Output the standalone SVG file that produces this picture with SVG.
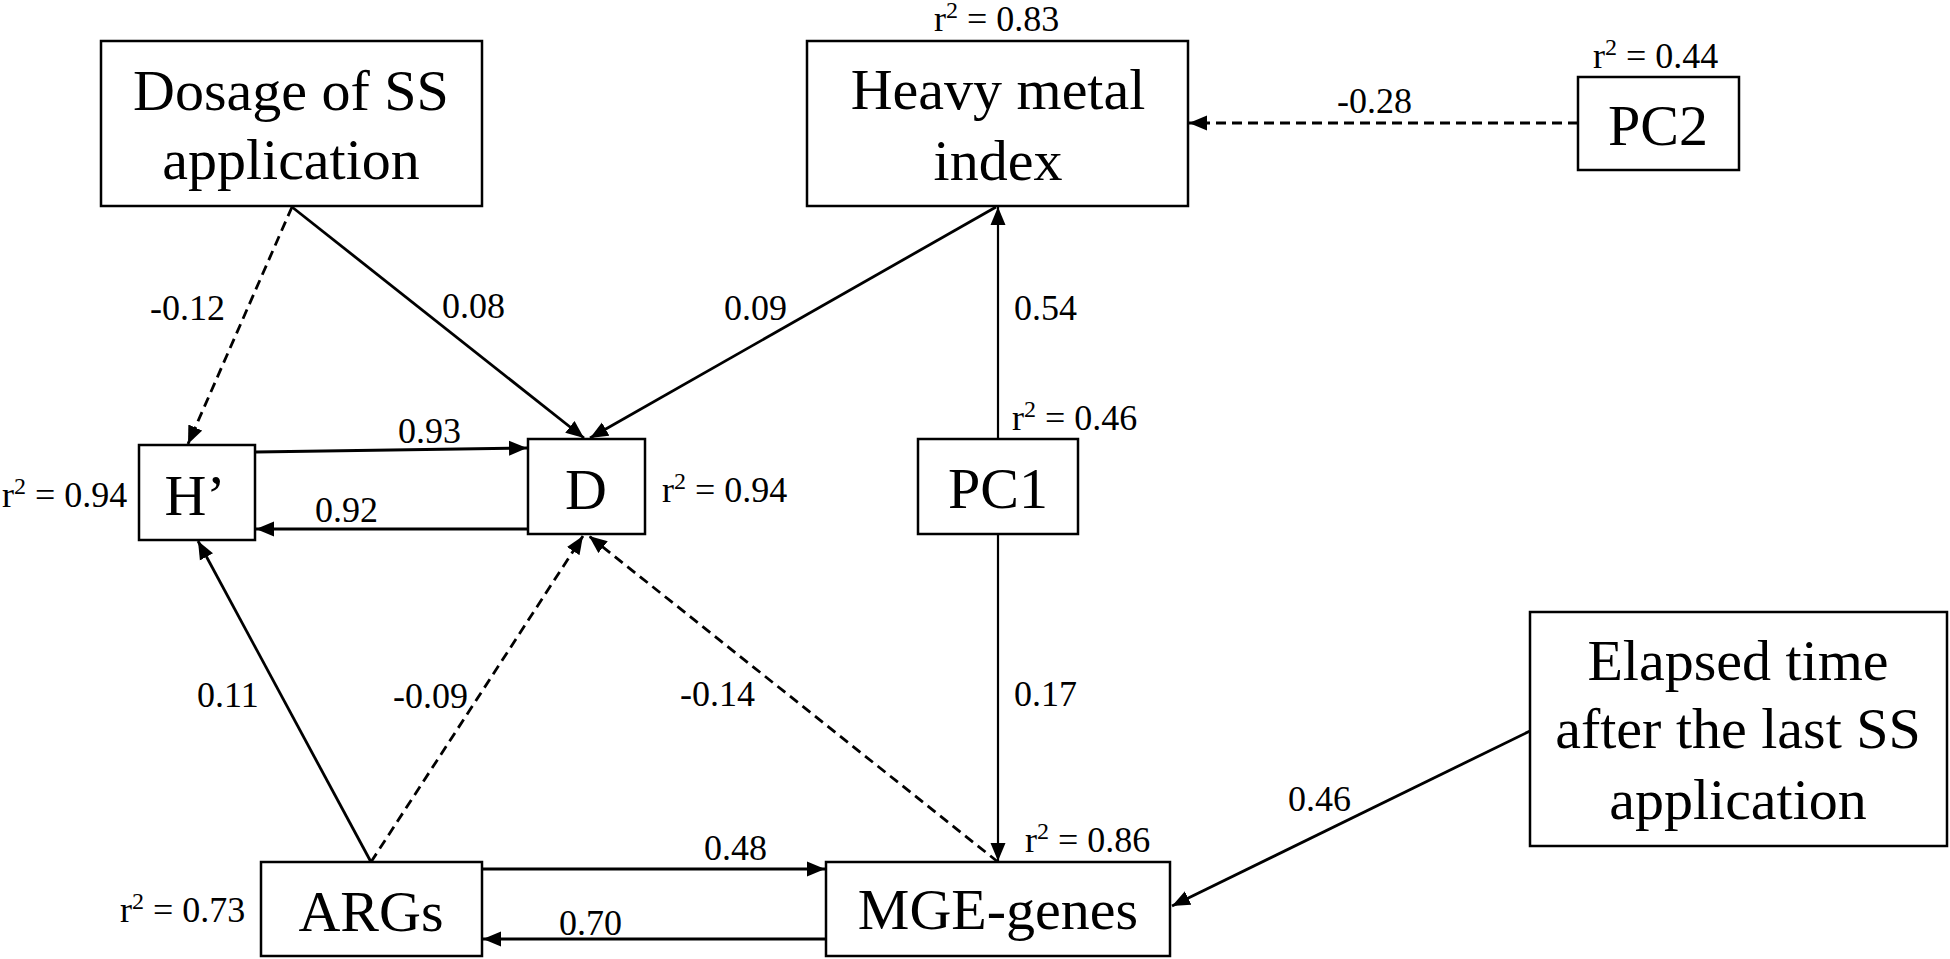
<svg xmlns="http://www.w3.org/2000/svg" width="1950" height="959" viewBox="0 0 1950 959">
<style>
.box{fill:#fff;stroke:#000;stroke-width:2.5}
.nt{font-family:"Liberation Serif","Times New Roman",serif;font-size:58px;fill:#000;text-anchor:middle}
.lb{font-family:"Liberation Serif","Times New Roman",serif;font-size:36px;fill:#000}
.sup{font-size:24px}
.e{fill:none;stroke:#000;stroke-width:2.8}
.thin{stroke-width:2.2}
.d{stroke-dasharray:10,6}
</style>
<defs>
<marker id="ah" markerUnits="userSpaceOnUse" markerWidth="20" markerHeight="16" refX="18" refY="8" orient="auto">
<path d="M0,0.5 L18,8 L0,15.5 z" fill="#000"/>
</marker>
</defs>
<rect width="1950" height="959" fill="#fff"/>
<g id="connectors">
<line class="e d" x1="292" y1="207" x2="188" y2="444" marker-end="url(#ah)"/>
<line class="e" x1="292" y1="207" x2="584" y2="438" marker-end="url(#ah)"/>
<line class="e" x1="996" y1="207" x2="590" y2="438" marker-end="url(#ah)"/>
<line class="e" x1="256" y1="452" x2="527" y2="448" marker-end="url(#ah)"/>
<line class="e" x1="527" y1="529" x2="256" y2="529" marker-end="url(#ah)"/>
<line class="e thin" x1="998" y1="439" x2="998" y2="207" marker-end="url(#ah)"/>
<line class="e d" x1="1578" y1="123" x2="1189" y2="123" marker-end="url(#ah)"/>
<line class="e thin" x1="998" y1="534" x2="998" y2="861" marker-end="url(#ah)"/>
<line class="e" x1="371" y1="862" x2="198" y2="541" marker-end="url(#ah)"/>
<line class="e d" x1="371" y1="862" x2="583" y2="536" marker-end="url(#ah)"/>
<line class="e d" x1="998" y1="862" x2="589" y2="536" marker-end="url(#ah)"/>
<line class="e" x1="482" y1="869" x2="825" y2="869" marker-end="url(#ah)"/>
<line class="e" x1="826" y1="939" x2="483" y2="939" marker-end="url(#ah)"/>
<line class="e" x1="1530" y1="731" x2="1172" y2="906" marker-end="url(#ah)"/>
</g>
<g id="edge-labels">
<text class="lb" x="150" y="320">-0.12</text>
<text class="lb" x="442" y="318">0.08</text>
<text class="lb" x="724" y="320">0.09</text>
<text class="lb" x="1014" y="320">0.54</text>
<text class="lb" x="1337" y="113">-0.28</text>
<text class="lb" x="398" y="443">0.93</text>
<text class="lb" x="315" y="522">0.92</text>
<text class="lb" x="197" y="707">0.11</text>
<text class="lb" x="393" y="708">-0.09</text>
<text class="lb" x="680" y="706">-0.14</text>
<text class="lb" x="1014" y="706">0.17</text>
<text class="lb" x="1288" y="811">0.46</text>
<text class="lb" x="704" y="860">0.48</text>
<text class="lb" x="559" y="935">0.70</text>
</g>
<g id="node-dosage">
<rect class="box" x="101" y="41" width="381" height="165"/>
<text class="nt" x="291" y="110">Dosage of SS</text>
<text class="nt" x="291" y="179">application</text>
</g>
<g id="node-heavy-metal">
<rect class="box" x="807" y="41" width="381" height="165"/>
<text class="nt" x="998" y="109">Heavy metal</text>
<text class="nt" x="998" y="180">index</text>
<text class="lb" x="934" y="31">r<tspan class="sup" dy="-13">2</tspan><tspan dy="13"> = 0.83</tspan></text>
</g>
<g id="node-pc2">
<rect class="box" x="1578" y="77" width="161" height="93"/>
<text class="nt" x="1658" y="145">PC2</text>
<text class="lb" x="1593" y="68">r<tspan class="sup" dy="-13">2</tspan><tspan dy="13"> = 0.44</tspan></text>
</g>
<g id="node-h">
<rect class="box" x="139" y="445" width="116" height="95"/>
<text class="nt" x="195" y="515">H’</text>
<text class="lb" x="2" y="507">r<tspan class="sup" dy="-13">2</tspan><tspan dy="13"> = 0.94</tspan></text>
</g>
<g id="node-d">
<rect class="box" x="528" y="439" width="117" height="95"/>
<text class="nt" x="586" y="509">D</text>
<text class="lb" x="662" y="502">r<tspan class="sup" dy="-13">2</tspan><tspan dy="13"> = 0.94</tspan></text>
</g>
<g id="node-pc1">
<rect class="box" x="918" y="439" width="160" height="95"/>
<text class="nt" x="998" y="508">PC1</text>
<text class="lb" x="1012" y="430">r<tspan class="sup" dy="-13">2</tspan><tspan dy="13"> = 0.46</tspan></text>
</g>
<g id="node-args">
<rect class="box" x="261" y="862" width="221" height="94"/>
<text class="nt" x="371" y="931">ARGs</text>
<text class="lb" x="120" y="922">r<tspan class="sup" dy="-13">2</tspan><tspan dy="13"> = 0.73</tspan></text>
</g>
<g id="node-mge">
<rect class="box" x="826" y="862" width="344" height="94"/>
<text class="nt" x="998" y="929">MGE-genes</text>
<text class="lb" x="1025" y="852">r<tspan class="sup" dy="-13">2</tspan><tspan dy="13"> = 0.86</tspan></text>
</g>
<g id="node-elapsed">
<rect class="box" x="1530" y="612" width="417" height="234"/>
<text class="nt" x="1738" y="680">Elapsed time</text>
<text class="nt" x="1738" y="748">after the last SS</text>
<text class="nt" x="1738" y="819">application</text>
</g>
</svg>
